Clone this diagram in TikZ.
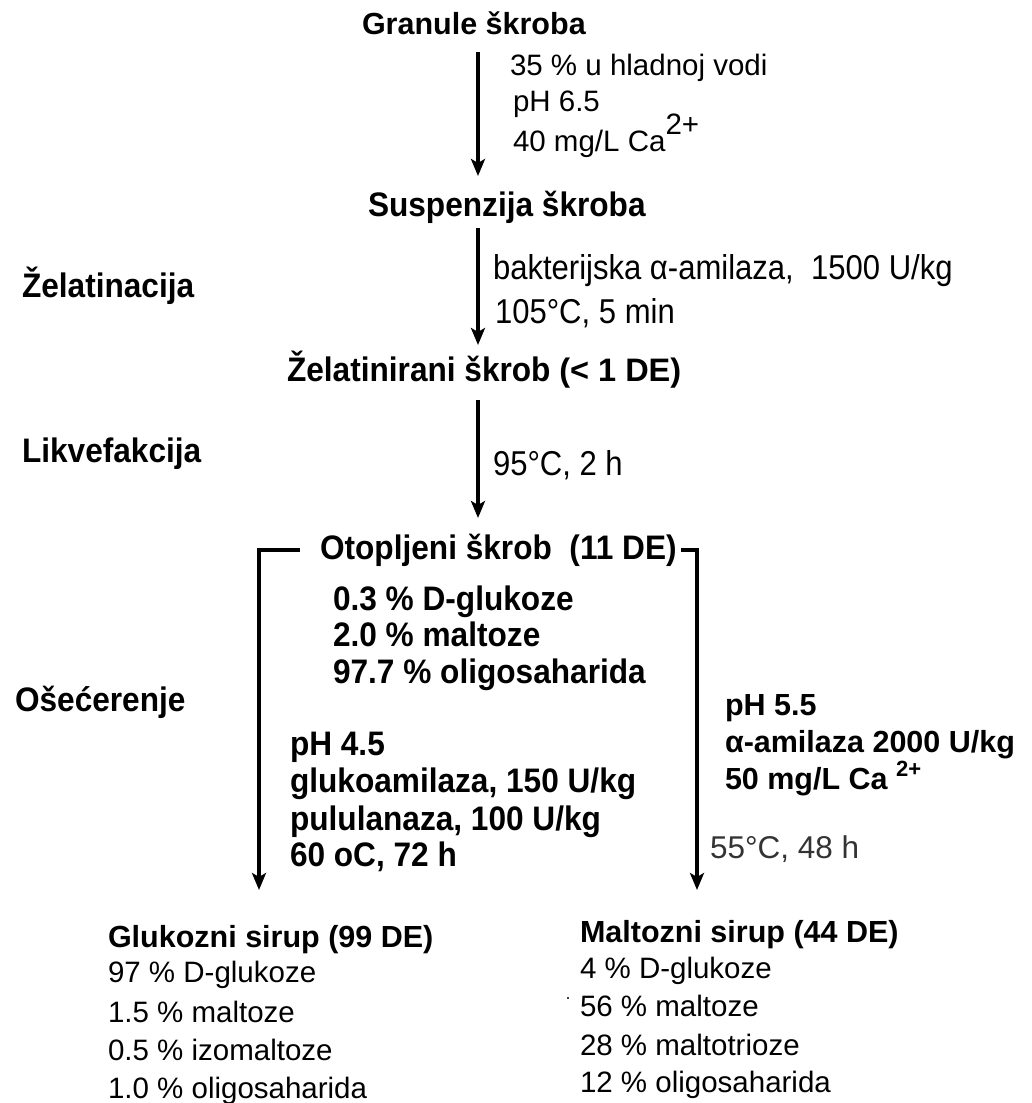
\documentclass[tikz,border=0pt]{standalone}
\usepackage{fontspec}
\setmainfont{Liberation Sans}
\newfontfamily\narrowsans[FakeStretch=0.93]{Liberation Sans}
\newfontfamily\condsans[FakeStretch=0.9]{Liberation Sans}
\usetikzlibrary{arrows.meta}
\begin{document}
\begin{tikzpicture}[x=1pt,y=-1pt,
  txt/.style={anchor=base west, inner sep=0pt, outer sep=0pt, text=black},
  hb/.style={txt, font=\fontsize{30.5}{36}\selectfont\bfseries},
  nb/.style={txt, font=\narrowsans\fontsize{34}{36}\selectfont\bfseries},
  rg/.style={txt, font=\fontsize{29.5}{36}\selectfont},
  cd/.style={txt, font=\condsans\fontsize{34.5}{36}\selectfont},
  flow/.style={line width=3.5pt, -{Stealth[length=17pt,width=14pt,inset=4pt]}},
]
\useasboundingbox (0,0) rectangle (1031,1103);

% vertical columns used by the flow arrows
\coordinate (col)  at (478,0);
\coordinate (lcol) at (259,0);
\coordinate (rcol) at (697,0);

% main stages
\node[hb] (granule) at (362,34)  {Granule škroba};
\node[nb] (susp)    at (368,216) {Suspenzija škroba};
\node[nb] (gel)     at (287,381) {Želatinirani škrob {\normalfont\fontsize{32.5}{36}\selectfont\bfseries(< 1 DE)}};
\node[nb] (otop)    at (320,559) {Otopljeni škrob\ \ (11 DE)};

% process phases on the left
\node[nb] (zelat) at (22,297) {Želatinacija};
\node[nb] (likv)  at (22,462) {Likvefakcija};
\node[nb] (osec)  at (15,711) {Ošećerenje};

% conditions: suspension
\node[rg] (c1a) at (510,75)  {35 \% u hladnoj vodi};
\node[rg] (c1b) at (513,111) {pH 6.5};
\node[rg] (c1c) at (513,151) {40 mg/L Ca\raisebox{17pt}{2+}};

% conditions: gelatinisation
\node[cd] (c2a) at (493,279) {bakterijska α-amilaza,\ \ 1500 U/kg};
\node[cd] (c2b) at (495,323) {105°C, 5 min};

% conditions: liquefaction
\node[cd] (c3) at (493,475) {95°C, 2 h};

% composition of the liquefied starch
\node[nb] (k1) at (333,610) {0.3 \% D-glukoze};
\node[nb] (k2) at (333,646) {2.0 \% maltoze};
\node[nb] (k3) at (333,683) {97.7 \% oligosaharida};

% saccharification towards glucose syrup
\node[nb] (g1) at (290,755) {pH 4.5};
\node[nb] (g2) at (290,792) {glukoamilaza, 150 U/kg};
\node[nb] (g3) at (290,830) {pululanaza, 100 U/kg};
\node[nb] (g4) at (290,866) {60 oC, 72 h};

% saccharification towards maltose syrup
\node[hb] (m1) at (725,715) {pH 5.5};
\node[hb] (m2) at (725,752) {α-amilaza 2000 U/kg};
\node[hb] (m3) at (725,789) {50 mg/L Ca~\raisebox{13pt}{\fontsize{22}{22}\selectfont 2+}};
\node[rg, text=black!80, font=\fontsize{31.5}{36}\selectfont] (m4) at (710,858) {55°C, 48 h};

% glucose syrup
\node[hb] (gluk) at (108,947)  {Glukozni sirup (99 DE)};
\node[rg] (gs1)  at (108,982)  {97 \% D-glukoze};
\node[rg] (gs2)  at (108,1022) {1.5 \% maltoze};
\node[rg] (gs3)  at (108,1060) {0.5 \% izomaltoze};
\node[rg] (gs4)  at (108,1098) {1.0 \% oligosaharida};

% maltose syrup
\node[hb] (malt) at (580,942)  {Maltozni sirup (44 DE)};
\node[rg] (ms1)  at (580,978)  {4 \% D-glukoze};
\node[rg] (ms2)  at (580,1016) {56 \% maltoze};
\node[rg] (ms3)  at (580,1055) {28 \% maltotrioze};
\node[rg] (ms4)  at (580,1092) {12 \% oligosaharida};
\fill (568,998) circle (1.2pt);

% flow arrows
\draw[flow, shorten <=18pt, shorten >=40pt] (granule.base -| col) -- (susp.base -| col);
\draw[flow, shorten <=12pt, shorten >=36pt] (susp.base -| col) -- (gel.base -| col);
\draw[flow, shorten <=19pt, shorten >=41pt] (gel.base -| col) -- (otop.base -| col);
\draw[flow, shorten >=57pt] ([xshift=-20pt]otop.west) -| (gluk.base -| lcol);
\draw[flow, shorten >=52pt] ([xshift=4pt]otop.east) -| (malt.base -| rcol);
\end{tikzpicture}
\end{document}
